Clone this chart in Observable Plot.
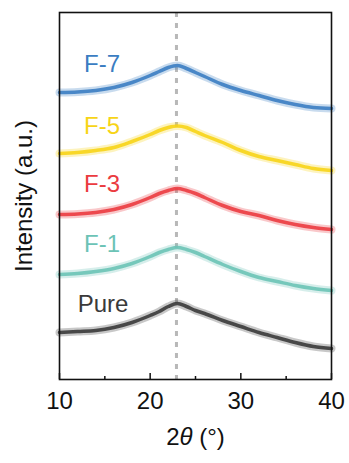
<!DOCTYPE html>
<html>
<head>
<meta charset="utf-8">
<script src="https://cdn.jsdelivr.net/npm/d3@7"></script>
<script src="https://cdn.jsdelivr.net/npm/@observablehq/plot@0.6"></script>
<style>
  html, body { margin: 0; padding: 0; background: #fff; }
</style>
</head>
<body>
<div id="chart"></div>
<script>
// 2θ sample positions (degrees)
const twoTheta = [10, 12, 14, 16, 18, 20, 21, 22, 23, 24, 25, 26, 28, 30, 32, 34, 36, 38, 40];

// Stacked intensities (a.u., offset for display)
const pure = [47, 48, 49, 52, 57, 64, 68, 73, 76, 73, 69, 66, 59, 53, 47, 42, 37, 33, 31];
const f1   = [105, 106, 108, 111, 116, 123, 127, 130, 132, 130, 127, 123, 115, 108, 102, 98, 94, 91, 89];
const f3   = [165, 165.5, 167, 170, 175, 182, 186, 189, 191, 189, 186, 182, 174, 168, 164, 159, 155, 152, 150];
const f5   = [226, 227, 229, 232, 238, 245, 249, 252, 253.5, 252, 248, 244, 237, 229, 223, 219, 215, 211, 209];
const f7   = [287, 287.5, 289, 292, 297, 304, 308, 312, 314, 311, 307, 303, 295, 289, 284, 279, 275, 272, 271];

const seriesNames = ["Pure", "F-1", "F-3", "F-5", "F-7"];
const seriesValues = [pure, f1, f3, f5, f7];
const seriesColors = ["#3a3a3a", "#6cc3b6", "#eb3b40", "#f7d417", "#3b7dc2"];

// Label anchor positions (2θ, intensity)
const labelX = [12.0, 12.7, 12.7, 12.7, 12.7];
const labelY = [75, 135.5, 195.5, 253, 315];

const xTicks = [10, 20, 30, 40];
const xMinorTicks = [15, 25, 35];
const peakLine = [22.9];

const rows = [];
seriesNames.forEach((name, i) => {
  seriesValues[i].forEach((v, j) => rows.push({series: name, x: twoTheta[j], y: v}));
});
const labels = seriesNames.map((name, i) => ({series: name, x: labelX[i], y: labelY[i]}));

const colorScale = {domain: seriesNames, range: seriesColors};

const chart = Plot.plot({
  width: 349,
  height: 463,
  marginLeft: 59,
  marginRight: 18,
  marginTop: 12,
  marginBottom: 84,
  style: {fontFamily: "'Liberation Sans', Arial, sans-serif", fontSize: "24px", background: "#fff", color: "#111"},
  x: {domain: [10, 40], ticks: xTicks},
  y: {domain: [0, 367], axis: null},
  color: colorScale,
  marks: [
    Plot.ruleX(peakLine, {stroke: "#b8b8b8", strokeWidth: 3, strokeDasharray: "5,6"}),
    Plot.line(rows, {x: "x", y: "y", z: "series", stroke: "series", strokeWidth: 8, strokeOpacity: 0.28, curve: "monotone-x"}),
    Plot.line(rows, {x: "x", y: "y", z: "series", stroke: "series", strokeWidth: 3.5, strokeOpacity: 0.9, curve: "monotone-x"}),
    Plot.text(labels, {x: "x", y: "y", text: "series", fill: "series", textAnchor: "start", lineAnchor: "middle", fontSize: 24}),
    Plot.tickX(xTicks, {x: d => d, insetTop: 361, stroke: "#111", strokeWidth: 1.5}),
    Plot.tickX(xMinorTicks, {x: d => d, insetTop: 364, stroke: "#111", strokeWidth: 1.5}),
    Plot.axisX({ticks: xTicks, tickSize: 0, tickPadding: 12, fontSize: 24, label: null}),
    Plot.frame({stroke: "#111", strokeWidth: 1.6}),
    Plot.text(["Intensity (a.u.)"], {frameAnchor: "left", textAnchor: "middle", lineAnchor: "middle", rotate: -90, dx: -35, fontSize: 24, fill: "#111"}),
    Plot.text(["2θ (°)"], {frameAnchor: "bottom", textAnchor: "middle", dy: 58, fontSize: 24, fill: "#111", lineAnchor: "middle", className: "xtitle"})
  ]
});

document.getElementById("chart").appendChild(chart);

// italicize θ in the x-axis title
d3.select(chart).selectAll(".xtitle text").each(function() {
  const t = d3.select(this);
  t.text(null);
  t.append("tspan").text("2");
  t.append("tspan").attr("font-style", "italic").text("θ");
  t.append("tspan").text(" (°)");
});
</script>
</body>
</html>
